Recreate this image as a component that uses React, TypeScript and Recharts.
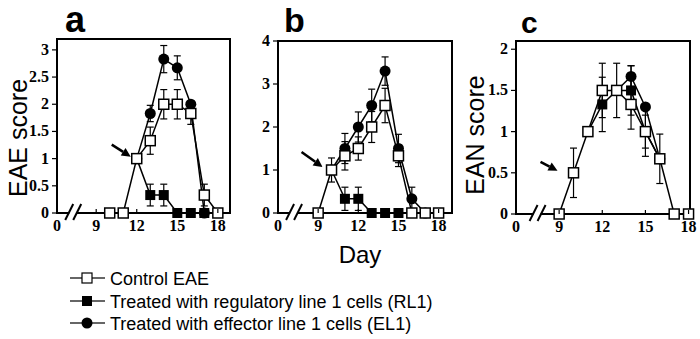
import { Line, LineChart, ReferenceArea, ReferenceDot, ReferenceLine, XAxis, YAxis } from 'recharts'

// panel a (EAE)
const daysA = [10, 11, 12, 13, 14, 15, 16, 17, 18]
const controlA = [0, 0, 1, 1.33, 2, 2, 1.83, 0.33, 0]
const controlErrA = [null, null, null, 0.25, 0.27, 0.27, 0.2, 0.2, null]
const rl1A = [null, null, 1, 0.33, 0.33, 0, 0, 0, null]
const rl1ErrA = [null, null, null, 0.2, 0.2, null, null, null, null]
const el1A = [null, null, 1, 1.83, 2.83, 2.67, 2, 0, null]
const el1ErrA = [null, null, null, 0.15, 0.25, 0.22, null, null, null]

// panel b (EAE)
const daysB = [9, 10, 11, 12, 13, 14, 15, 16, 17, 18]
const controlB = [0, 1, 1.33, 1.5, 2, 2.5, 1.33, 0, 0, 0]
const controlErrB = [null, 0.28, 0.33, 0.27, 0.36, 0.4, 0.25, null, null, null]
const rl1B = [null, 1, 0.33, 0.33, 0, 0, 0, null, null, null]
const rl1ErrB = [null, null, 0.27, 0.27, null, null, null, null, null, null]
const el1B = [null, 1, 1.5, 2, 2.5, 3.3, 1.5, 0.33, 0, null]
const el1ErrB = [null, null, 0.35, 0.35, 0.38, 0.33, 0.33, 0.27, null, null]

// panel c (EAN)
const daysC = [9, 10, 11, 12, 13, 14, 15, 16, 17, 18]
const controlC = [0, 0.5, 1, 1.5, 1.5, 1.33, 1, 0.67, 0, 0]
const controlErrC = [null, 0.3, null, 0.33, 0.33, 0.3, 0.3, 0.3, null, null]
const rl1C = [null, null, 1, 1.33, 1.5, 1.5, 1, 0.67, null, null]
const rl1ErrC = [null, null, null, 0.33, null, 0.3, 0.2, null, null, null]
const el1C = [null, null, null, null, 1.5, 1.67, 1.3, 0.67, null, null]
const el1ErrC = [null, null, null, null, null, 0.13, null, null, null, null]

const xTickLabels = ['0', '9', '12', '15', '18']
const yTicksA = [0, 0.5, 1, 1.5, 2, 2.5, 3]
const yTicksB = [0, 0.5, 1, 1.5, 2, 2.5, 3, 3.5, 4]
const yTicksC = [0, 0.5, 1, 1.5, 2]

const legendLabels = [
  'Control EAE',
  'Treated with regulatory line 1 cells (RL1)',
  'Treated with effector line 1 cells (EL1)',
]

type Row = {
  day: number
  control: number | null
  controlErr: number | null
  rl1: number | null
  rl1Err: number | null
  el1: number | null
  el1Err: number | null
}

const buildRows = (
  days: number[],
  control: (number | null)[],
  controlErr: (number | null)[],
  rl1: (number | null)[],
  rl1Err: (number | null)[],
  el1: (number | null)[],
  el1Err: (number | null)[],
): Row[] =>
  days.map((day, i) => ({
    day,
    control: control[i],
    controlErr: controlErr[i],
    rl1: rl1[i],
    rl1Err: rl1Err[i],
    el1: el1[i],
    el1Err: el1Err[i],
  }))

const serif = '"Liberation Serif", "Times New Roman", "DejaVu Serif", serif'
const sans = '"Liberation Sans", Arial, sans-serif'

const openSquare = (p: any) => (
  <rect x={p.cx - 5} y={p.cy - 5} width={10} height={10} fill="#fff" stroke="#000" strokeWidth={1.5} />
)
const filledSquare = (p: any) => <rect x={p.cx - 5} y={p.cy - 5} width={10} height={10} fill="#000" />
const filledCircle = (p: any) => <circle cx={p.cx} cy={p.cy} r={5.5} fill="#000" />

// draw order: regulatory, effector, then control on top
const seriesList = [
  { key: 'rl1', errKey: 'rl1Err', marker: filledSquare },
  { key: 'el1', errKey: 'el1Err', marker: filledCircle },
  { key: 'control', errKey: 'controlErr', marker: openSquare },
] as const

const errorShape = (p: any) => (
  <g>
    <line x1={p.x1} y1={p.y1} x2={p.x2} y2={p.y2} stroke="#000" strokeWidth={1.2} />
    <line x1={p.x1 - 3.5} y1={p.y1} x2={p.x1 + 3.5} y2={p.y1} stroke="#000" strokeWidth={1.2} />
    <line x1={p.x2 - 3.5} y1={p.y2} x2={p.x2 + 3.5} y2={p.y2} stroke="#000" strokeWidth={1.2} />
  </g>
)

const axisBreak = (p: any) => (
  <g>
    <rect x={p.cx - 4} y={p.cy - 3} width={7} height={6} fill="#fff" />
    <line x1={p.cx - 8} y1={p.cy + 7} x2={p.cx} y2={p.cy - 9} stroke="#000" strokeWidth={2} />
    <line x1={p.cx} y1={p.cy + 7} x2={p.cx + 8} y2={p.cy - 9} stroke="#000" strokeWidth={2} />
  </g>
)

const makeArrow = (tail: [number, number], tip: [number, number]) => (p: any) => {
  const x1 = p.cx + tail[0]
  const y1 = p.cy + tail[1]
  const x2 = p.cx + tip[0]
  const y2 = p.cy + tip[1]
  const a = Math.atan2(y2 - y1, x2 - x1)
  const len = 9
  const half = 4.5
  const bx = x2 - len * Math.cos(a)
  const by = y2 - len * Math.sin(a)
  const pts = [
    `${x2},${y2}`,
    `${bx + half * Math.sin(a)},${by - half * Math.cos(a)}`,
    `${bx - half * Math.sin(a)},${by + half * Math.cos(a)}`,
  ].join(' ')
  return (
    <g>
      <line x1={x1} y1={y1} x2={bx} y2={by} stroke="#000" strokeWidth={2.5} />
      <polygon points={pts} fill="#000" />
    </g>
  )
}

const XTick = (p: any) => {
  const { x, y, index, payload } = p
  return (
    <g>
      {index > 0 ? <line x1={x} y1={y} x2={x} y2={y - 4} stroke="#000" strokeWidth={1.2} /> : null}
      <text x={x} y={y + 18} textAnchor="middle" fontFamily={serif} fontSize={16} fontWeight="bold" fill="#000">
        {xTickLabels[index] ?? payload.value}
      </text>
    </g>
  )
}

const YTick = (p: any) => {
  const { x, y, payload } = p
  return (
    <text x={x} y={y + 5} textAnchor="end" fontFamily={serif} fontSize={16} fontWeight="bold" fill="#000">
      {payload.value}
    </text>
  )
}

interface PanelProps {
  rows: Row[]
  left: number
  width: number
  margin: { top: number; right: number; left: number; bottom: number }
  xDomain: [number, number]
  yDomain: [number, number]
  yTicks: number[]
  breakX: number
  onset: { x: number; y: number }
  arrowTail: [number, number]
  arrowTip: [number, number]
}

function Panel({ rows, left, width, margin, xDomain, yDomain, yTicks, breakX, onset, arrowTail, arrowTip }: PanelProps) {
  const xTicks = [xDomain[0], 9, 12, 15, 18]

  const errorBars = seriesList.flatMap((s) =>
    rows.flatMap((r) => {
      const v = r[s.key]
      const e = r[s.errKey]
      if (v == null || e == null) return []
      return [
        <ReferenceLine
          key={`${s.key}-err-${r.day}`}
          segment={[
            { x: r.day, y: v - e },
            { x: r.day, y: v + e },
          ]}
          ifOverflow="visible"
          shape={errorShape}
        />,
      ]
    }),
  )

  const markers = seriesList.flatMap((s) =>
    rows.flatMap((r) => {
      const v = r[s.key]
      if (v == null) return []
      return [<ReferenceDot key={`${s.key}-dot-${r.day}`} x={r.day} y={v} ifOverflow="visible" shape={s.marker} />]
    }),
  )

  return (
    <div style={{ position: 'absolute', left, top: 0 }}>
      <LineChart width={width} height={245} data={rows} margin={margin}>
        <XAxis
          dataKey="day"
          type="number"
          domain={xDomain}
          ticks={xTicks}
          allowDataOverflow
          height={25}
          tickSize={0}
          tickMargin={0}
          tickLine={false}
          tick={<XTick />}
          axisLine={{ stroke: '#000', strokeWidth: 2 }}
        />
        <YAxis
          type="number"
          domain={yDomain}
          ticks={yTicks}
          allowDataOverflow
          width={40}
          tickSize={5}
          tickMargin={3}
          tick={<YTick />}
          tickLine={{ stroke: '#000', strokeWidth: 1.2 }}
          axisLine={{ stroke: '#000', strokeWidth: 2 }}
        />
        <ReferenceArea
          x1={xDomain[0]}
          x2={xDomain[1]}
          y1={yDomain[0]}
          y2={yDomain[1]}
          fill="none"
          stroke="#000"
          strokeWidth={2}
          ifOverflow="visible"
        />
        {seriesList.map((s) => (
          <Line
            key={s.key}
            dataKey={s.key}
            stroke="#000"
            strokeWidth={1.5}
            dot={false}
            activeDot={false}
            isAnimationActive={false}
          />
        ))}
        <ReferenceDot x={breakX} y={0} ifOverflow="visible" shape={axisBreak} />
        {errorBars}
        {markers}
        <ReferenceDot x={onset.x} y={onset.y} ifOverflow="visible" shape={makeArrow(arrowTail, arrowTip)} />
      </LineChart>
    </div>
  )
}

export default function App() {
  const rowsA = buildRows(daysA, controlA, controlErrA, rl1A, rl1ErrA, el1A, el1ErrA)
  const rowsB = buildRows(daysB, controlB, controlErrB, rl1B, rl1ErrB, el1B, el1ErrB)
  const rowsC = buildRows(daysC, controlC, controlErrC, rl1C, rl1ErrC, el1C, el1ErrC)
  const legendY = [278, 301, 323]

  return (
    <div style={{ position: 'absolute', left: 0, top: 0, width: 700, height: 339, background: '#fff', overflow: 'hidden' }}>
      <Panel
        rows={rowsA}
        left={0}
        width={245}
        margin={{ top: 39, right: 15, left: 17, bottom: 7 }}
        xDomain={[6.1, 18.9]}
        yDomain={[0, 3.2]}
        yTicks={yTicksA}
        breakX={7.3}
        onset={{ x: 12, y: 1 }}
        arrowTail={[-25, -14]}
        arrowTip={[-6, -2]}
      />
      <Panel
        rows={rowsB}
        left={235}
        width={245}
        margin={{ top: 41, right: 28, left: 3, bottom: 7 }}
        xDomain={[6, 19]}
        yDomain={[0, 4]}
        yTicks={yTicksB}
        breakX={7.2}
        onset={{ x: 10, y: 1 }}
        arrowTail={[-30, -18]}
        arrowTip={[-9, -3]}
      />
      <Panel
        rows={rowsC}
        left={460}
        width={240}
        margin={{ top: 41, right: 10, left: 16, bottom: 6 }}
        xDomain={[6, 18.1]}
        yDomain={[0, 2.1]}
        yTicks={yTicksC}
        breakX={7.5}
        onset={{ x: 10, y: 0.5 }}
        arrowTail={[-33, -11]}
        arrowTip={[-16, -2]}
      />
      <svg width={700} height={339} style={{ position: 'absolute', left: 0, top: 0, pointerEvents: 'none' }}>
        <text x={65} y={32} fontFamily={sans} fontWeight="bold" fontSize={36}>a</text>
        <text x={284} y={32} fontFamily={sans} fontWeight="bold" fontSize={34}>b</text>
        <text x={521} y={33} fontFamily={sans} fontWeight="bold" fontSize={30}>c</text>
        <text x={0} y={0} transform="translate(27,138) rotate(-90)" textAnchor="middle" fontFamily={sans} fontSize={25}>
          EAE score
        </text>
        <text x={0} y={0} transform="translate(484,135) rotate(-90)" textAnchor="middle" fontFamily={sans} fontSize={25}>
          EAN score
        </text>
        <text x={360} y={263} textAnchor="middle" fontFamily={sans} fontSize={24}>Day</text>
        {legendLabels.map((label, i) => {
          const y = legendY[i]
          return (
            <g key={label}>
              <line x1={70} y1={y} x2={105} y2={y} stroke="#333" strokeWidth={1.5} />
              {i === 0 ? <rect x={82} y={y - 5} width={10} height={10} fill="#fff" stroke="#000" strokeWidth={1.2} /> : null}
              {i === 1 ? <rect x={82} y={y - 5} width={10} height={10} fill="#000" /> : null}
              {i === 2 ? <circle cx={87} cy={y} r={5.5} fill="#000" /> : null}
              <text x={110} y={y + 6.5} fontFamily={sans} fontSize={18}>{label}</text>
            </g>
          )
        })}
      </svg>
    </div>
  )
}
